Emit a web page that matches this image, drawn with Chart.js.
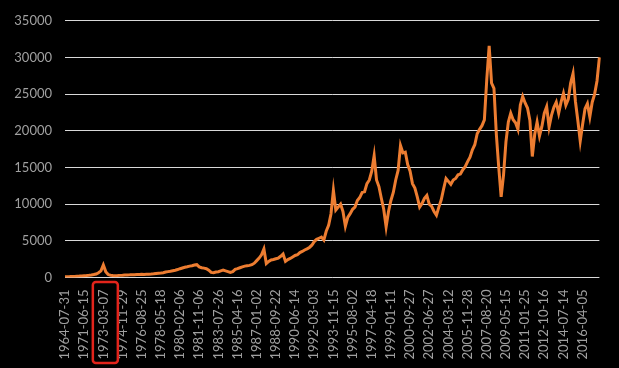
<!DOCTYPE html>
<html>
<head>
<meta charset="utf-8">
<script src="https://cdn.jsdelivr.net/npm/chart.js@4/dist/chart.umd.min.js"></script>
<style>
	html, body { margin: 0; padding: 0; background: #000; }
	#wrap { width: 619px; height: 368px; }
</style>
</head>
<body>
<div id="wrap"><canvas id="chartIndex" width="619" height="368"></canvas></div>
<script>
'use strict'

// tick labels shown on the category axis, one every pointsPerTick points
const tickLabels = [
	'1964-07-31', '1971-06-15', '1973-03-07', '1974-11-29', '1976-08-25', '1978-05-18',
	'1980-02-06', '1981-11-06', '1983-07-26', '1985-04-16', '1987-01-02', '1988-09-22',
	'1990-06-14', '1992-03-03', '1993-11-15', '1995-08-02', '1997-04-18', '1999-01-11',
	'2000-09-27', '2002-06-27', '2004-03-12', '2005-11-28', '2007-08-20', '2009-05-15',
	'2011-01-25', '2012-10-16', '2014-07-14', '2016-04-05'
];
const pointsPerTick = 8;
const markedTick = 2; // the boxed label

// index level
const values = [
	100, 110, 120, 140, 150, 170, 190, 220,
	250, 270, 300, 340, 400, 480, 650, 900,
	1700, 800, 400, 300, 270, 250, 260, 290,
	300, 330, 350, 360, 380, 390, 400, 410,
	430, 420, 440, 450, 470, 500, 540, 570,
	600, 650, 740, 800, 860, 930, 1000, 1080,
	1200, 1300, 1400, 1460, 1550, 1600, 1700, 1750,
	1450, 1330, 1280, 1200, 1000, 700, 650, 750,
	790, 900, 1000, 900, 800, 680, 800, 1100,
	1200, 1330, 1450, 1550, 1600, 1650, 1750, 1950,
	2300, 2650, 3100, 3900, 1900, 2200, 2400, 2450,
	2550, 2650, 2900, 3200, 2200, 2450, 2600, 2800,
	3000, 3100, 3400, 3550, 3750, 3900, 4100, 4400,
	4900, 5200, 5350, 5500, 5100, 6300, 7100, 8700,
	11900, 9200, 9600, 10000, 9000, 7000, 8200, 8700,
	9300, 9600, 10500, 10900, 11600, 11700, 12800, 13300,
	14500, 16600, 13300, 12400, 10800, 9300, 6900, 9000,
	10500, 11600, 13300, 14600, 18000, 17000, 17100, 15400,
	14500, 12800, 12200, 11000, 9600, 10100, 10800, 11200,
	10000, 9700, 9000, 8500, 9600, 10600, 12100, 13500,
	13100, 12700, 13300, 13500, 14000, 14100, 14700, 15100,
	15800, 16400, 17400, 18100, 19600, 20200, 20700, 21500,
	27000, 31600, 26500, 25800, 19500, 15000, 11000, 14000,
	18500, 21200, 22400, 21500, 21100, 20200, 23500, 24700,
	23800, 23100, 21400, 16500, 19500, 21200, 19300, 20600,
	22400, 23300, 20500, 22100, 23200, 23900, 22400, 23900,
	25100, 23500, 24300, 26500, 27800, 24000, 21400, 18600,
	20900, 23000, 23700, 21900, 23900, 25000, 26800, 30000
];

const labels = values.map((v, i) => i % pointsPerTick === 0 ? (tickLabels[i / pointsPerTick] || '') : '');

const textColor = '#a0a0a0';
const gridColor = '#d9d9d9';
const lineColor = '#ED7D31';

// red box round one of the axis labels
const markLabel = {
	id: 'markLabel',
	afterDraw(chart) {
		const { ctx, scales: { x } } = chart;
		const px = x.getPixelForValue(markedTick * pointsPerTick);
		ctx.save();
		ctx.strokeStyle = '#e3241b';
		ctx.lineWidth = 2.5;
		ctx.beginPath();
		ctx.roundRect(px - 10.5, x.top + 4.5, 25, 81, 3);
		ctx.stroke();
		ctx.restore();
	},
};

new Chart(document.getElementById('chartIndex'), {
	type: 'line',
	data: {
		labels: labels,
		datasets: [{
			data: values,
			borderColor: lineColor,
			borderWidth: 3,
			pointRadius: 0,
			tension: 0,
			fill: false,
		}],
	},
	options: {
		responsive: false,
		animation: false,
		layout: {
			padding: { top: 13, right: 17, bottom: 0, left: 0 },
		},
		plugins: {
			legend: { display: false },
			tooltip: { enabled: false },
		},
		scales: {
			x: {
				type: 'category',
				offset: false,
				grid: { display: false },
				border: { display: false },
				ticks: {
					autoSkip: false,
					minRotation: 90,
					maxRotation: 90,
					padding: 4,
					color: textColor,
					font: { family: 'Lato', size: 13 },
				},
				afterFit: (s) => { s.height = 90.5; },
			},
			y: {
				min: 0,
				max: 35000,
				grid: {
					color: gridColor,
					lineWidth: 1,
					drawTicks: false,
				},
				border: { display: false },
				ticks: {
					stepSize: 5000,
					padding: 13,
					color: textColor,
					font: { family: 'Lato', size: 13 },
					callback: (v) => String(v),
				},
				afterFit: (s) => { s.width = 65; },
			},
		},
	},
	plugins: [markLabel],
});
</script>
</body>
</html>
